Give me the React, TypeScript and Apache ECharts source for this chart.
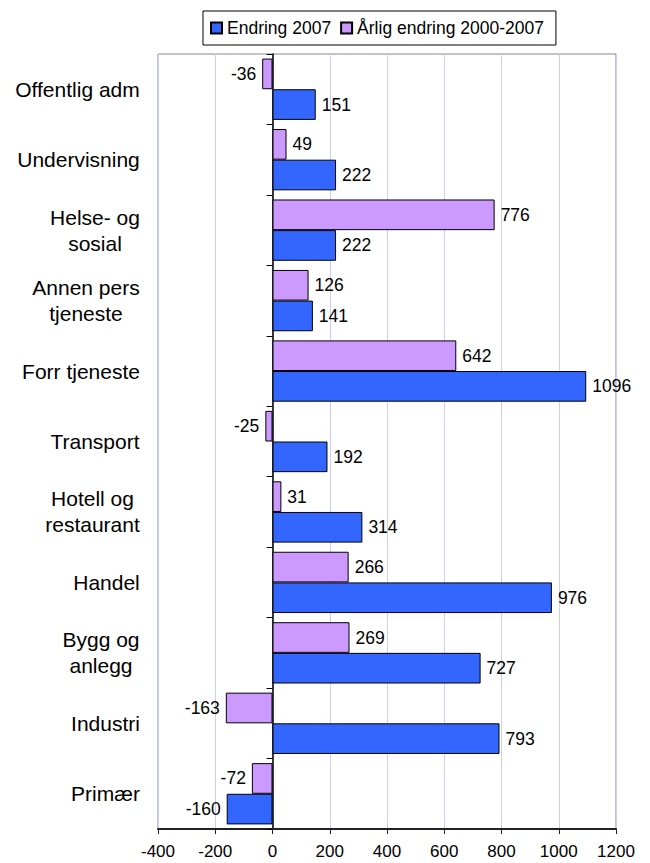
import React, { useEffect, useRef } from "react";
import * as echarts from "echarts";

const categories = [
  "Offentlig adm",
  "Undervisning",
  "Helse- og\nsosial",
  "Annen pers\ntjeneste",
  "Forr tjeneste",
  "Transport",
  "Hotell og\nrestaurant",
  "Handel",
  "Bygg og\nanlegg",
  "Industri",
  "Primær",
];
const endring2007 = [151, 222, 222, 141, 1096, 192, 314, 976, 727, 793, -160];
const aarligEndring = [-36, 49, 776, 126, 642, -25, 31, 266, 269, -163, -72];
const seriesNames = ["Endring 2007", "Årlig endring 2000-2007"];
const xTicks = { min: -400, max: 1200, interval: 200 };

const FONT = "'Liberation Sans', Arial, Helvetica, sans-serif";
const CAT_SIZE = 21;

function toItems(values: number[]) {
  return values.map((v) => ({
    value: v,
    label: { position: v < 0 ? "left" : "right" },
  }));
}

function measure(text: string, size: number) {
  const c = document.createElement("canvas");
  const ctx = c.getContext("2d")!;
  ctx.font = `${size}px ${FONT}`;
  return ctx.measureText(text).width;
}

export default function App() {
  const ref = useRef<HTMLDivElement>(null);
  useEffect(() => {
    document.body.style.margin = "0";
    const chart = echarts.init(ref.current!, null, { renderer: "svg" });
    const rich: Record<string, any> = {};
    categories.forEach((cat, i) => {
      const lines = cat.split("\n");
      const w = Math.ceil(Math.max(...lines.map((l) => measure(l, CAT_SIZE))));
      rich["c" + i] = {
        width: w,
        align: "center",
        fontSize: CAT_SIZE,
        lineHeight: 26,
        color: "#000",
        fontFamily: FONT,
      };
    });
    const labelCfg = {
      show: true,
      distance: 6,
      fontSize: 17.5,
      color: "#000",
      fontFamily: FONT,
    };
    chart.setOption({
      animation: false,
      backgroundColor: "#fff",
      textStyle: { fontFamily: FONT },
      legend: {
        data: seriesNames,
        left: 203,
        top: 11,
        padding: [8, 12, 8, 7],
        itemGap: 9,
        itemWidth: 11,
        itemHeight: 11,
        borderColor: "#000",
        borderWidth: 1,
        icon: "rect",
        textStyle: { fontSize: 17.5, color: "#000", fontFamily: FONT },
      },
      grid: {
        left: 158,
        right: 34,
        top: 54,
        bottom: 34,
        show: true,
        borderColor: "#888",
        borderWidth: 1,
        containLabel: false,
      },
      xAxis: {
        type: "value",
        min: xTicks.min,
        max: xTicks.max,
        interval: xTicks.interval,
        axisLine: { show: true, lineStyle: { color: "#222", width: 2 } },
        axisTick: { show: true, length: 5, lineStyle: { color: "#222", width: 1 } },
        axisLabel: {
          fontSize: 17,
          color: "#000",
          margin: 14,
          fontFamily: FONT,
          formatter: (v: number) => String(v),
        },
        splitLine: { show: true, lineStyle: { color: "#ccccff", width: 1 } },
      },
      yAxis: [
        {
          type: "category",
          data: categories,
          inverse: true,
          position: "left",
          axisLine: { show: false, onZero: false },
          axisTick: { show: false },
          splitLine: { show: false },
          axisLabel: {
            margin: 18,
            color: "#000",
            fontSize: CAT_SIZE,
            fontFamily: FONT,
            formatter: (v: string, idx: number) =>
              v
                .split("\n")
                .map((l) => `{c${idx}|${l}}`)
                .join("\n"),
            rich,
          },
        },
        {
          type: "category",
          data: categories,
          inverse: true,
          position: "left",
          axisLine: { show: true, onZero: true, lineStyle: { color: "#000", width: 1.5 } },
          axisTick: { show: true, length: 6, lineStyle: { color: "#000", width: 1 } },
          axisLabel: { show: false },
          splitLine: { show: false },
        },
      ],
      series: [
        {
          name: seriesNames[1],
          type: "bar",
          yAxisIndex: 0,
          data: toItems(aarligEndring),
          barGap: "0%",
          barCategoryGap: "13%",
          itemStyle: { color: "#CC99FF", borderColor: "#000", borderWidth: 1 },
          label: labelCfg,
        },
        {
          name: seriesNames[0],
          type: "bar",
          yAxisIndex: 0,
          data: toItems(endring2007),
          barGap: "0%",
          barCategoryGap: "13%",
          itemStyle: { color: "#3366FF", borderColor: "#000", borderWidth: 1 },
          label: labelCfg,
        },
      ],
    });
    return () => chart.dispose();
  }, []);
  return (
    <div
      ref={ref}
      style={{ position: "absolute", left: 0, top: 0, width: 650, height: 863 }}
    />
  );
}
